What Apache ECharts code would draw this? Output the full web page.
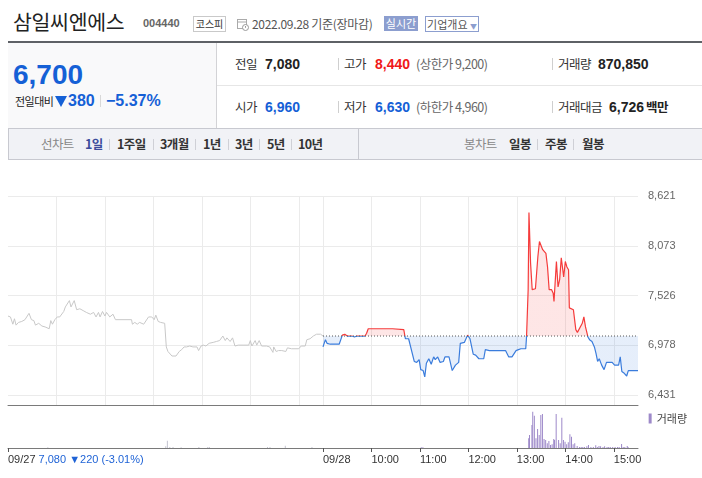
<!DOCTYPE html>
<html><head><meta charset="utf-8">
<script src="https://cdn.jsdelivr.net/npm/echarts@6/dist/echarts.min.js"></script>
<style>
body{margin:0;width:702px;height:478px;background:#fff;font-family:"Liberation Sans","Noto Sans CJK KR",sans-serif;position:relative;overflow:hidden;color:#333}
.a{position:absolute;white-space:nowrap}
.k{font-family:"Noto Sans CJK KR",sans-serif}
.lb{font-size:12.5px;color:#333;line-height:20px;letter-spacing:-0.5px}
.vb{font-size:14px;font-weight:bold;line-height:20px;color:#222}
.sep{position:absolute;width:1px;height:12px;background:#cfcfcf}
.tb{font-size:12.5px;font-weight:bold;line-height:20px;color:#333;letter-spacing:-0.6px}
.ts{position:absolute;width:1px;height:11px;background:#cfd0d6;top:139px}
</style></head><body>
<!-- title row -->
<div class="a k" style="left:13px;top:6px;font-size:20.5px;line-height:30px;color:#222;letter-spacing:-0.3px">삼일씨엔에스</div>
<div class="a" style="left:143px;top:15px;font-size:11px;font-weight:bold;line-height:16px;color:#666">004440</div>
<div class="a k" style="left:193px;top:16px;width:31px;height:14px;border:1px solid #c9c9c9;font-size:10px;line-height:14px;text-align:center;color:#333">코스피</div>
<svg class="a" style="left:237px;top:18px" width="12" height="13" viewBox="0 0 12 13"><rect x="0.5" y="1.5" width="9" height="9" fill="none" stroke="#aaa"/><line x1="0.5" y1="4" x2="9.5" y2="4" stroke="#aaa"/><circle cx="8.5" cy="9.5" r="3" fill="#fff" stroke="#999"/><line x1="8.5" y1="8" x2="8.5" y2="9.8" stroke="#999"/></svg>
<div class="a k" style="left:252px;top:15px;font-size:12px;line-height:17px;color:#555;letter-spacing:-0.3px">2022.09.28 기준(장마감)</div>
<div class="a k" style="left:384px;top:16px;width:34px;height:15px;background:#8c9ecf;font-size:11px;line-height:15px;text-align:center;color:#fff">실시간</div>
<div class="a k" style="left:425px;top:16px;width:52px;height:14px;border:1px solid #8c9ecf;font-size:11px;line-height:14px;text-align:center;color:#555;background:#fff">기업개요 <span style="font-size:7px;color:#8c9ecf">▼</span></div>
<div class="a" style="left:8px;top:41px;width:694px;height:2px;background:#5e6166"></div>
<!-- price block -->
<div class="a" style="left:8px;top:43px;width:208px;height:85px;background:#f9f9fa;border-right:1px solid #d3d3d6"></div>
<div class="a" style="left:13px;top:58px;font-size:28px;font-weight:bold;line-height:34px;color:#1560d6">6,700</div>
<div class="a k" style="left:15px;top:93px;font-size:11px;line-height:16px;color:#222;letter-spacing:-0.5px">전일대비</div>
<svg class="a" style="left:55px;top:96px" width="12" height="11" viewBox="0 0 12 11"><polygon points="0,0 12,0 6,11" fill="#1560d6"/></svg>
<div class="a" style="left:68px;top:91px;font-size:16px;font-weight:bold;line-height:20px;color:#1560d6">380</div>
<div class="sep" style="left:100px;top:95px;background:#d8d8d8"></div>
<div class="a" style="left:106px;top:91px;font-size:16px;font-weight:bold;line-height:20px;color:#1560d6">−5.37%</div>
<!-- stats -->
<div class="a" style="left:217px;top:85px;width:485px;height:1px;background:#e6e6e6"></div>
<div class="a k lb" style="left:235px;top:54px">전일</div>
<div class="a vb" style="left:265px;top:54px">7,080</div>
<div class="sep" style="left:338px;top:58px"></div>
<div class="a k lb" style="left:344px;top:54px">고가</div>
<div class="a vb" style="left:375px;top:54px;color:#f01818">8,440</div>
<div class="a k lb" style="left:416px;top:54px;color:#666">(상한가 9,200)</div>
<div class="sep" style="left:552px;top:58px"></div>
<div class="a k lb" style="left:558px;top:54px">거래량</div>
<div class="a vb" style="left:598px;top:54px">870,850</div>
<div class="a k lb" style="left:235px;top:97px">시가</div>
<div class="a vb" style="left:265px;top:97px;color:#1560d6">6,960</div>
<div class="sep" style="left:338px;top:101px"></div>
<div class="a k lb" style="left:344px;top:97px">저가</div>
<div class="a vb" style="left:375px;top:97px;color:#1560d6">6,630</div>
<div class="a k lb" style="left:416px;top:97px;color:#666">(하한가 4,960)</div>
<div class="sep" style="left:552px;top:101px"></div>
<div class="a k lb" style="left:558px;top:97px">거래대금</div>
<div class="a vb" style="left:609px;top:97px">6,726</div>
<div class="a k lb" style="left:646px;top:97px;font-weight:bold;color:#222">백만</div>
<!-- tabs -->
<div class="a" style="left:8px;top:128px;width:693px;height:30px;background:#f1f2f6;border:1px solid #c8c9d0"></div>
<div class="a" style="left:358px;top:129px;width:1px;height:30px;background:#c8c9d0"></div>
<div class="a k tb" style="left:41px;top:134px;color:#888;font-weight:normal">선차트</div>
<div class="a k tb" style="left:85px;top:134px;color:#3b4c9c">1일</div>
<div class="ts" style="left:109px"></div>
<div class="a k tb" style="left:117px;top:134px">1주일</div>
<div class="ts" style="left:153px"></div>
<div class="a k tb" style="left:160px;top:134px">3개월</div>
<div class="ts" style="left:195px"></div>
<div class="a k tb" style="left:203px;top:134px">1년</div>
<div class="ts" style="left:228px"></div>
<div class="a k tb" style="left:235px;top:134px">3년</div>
<div class="ts" style="left:259px"></div>
<div class="a k tb" style="left:267px;top:134px">5년</div>
<div class="ts" style="left:291px"></div>
<div class="a k tb" style="left:298px;top:134px">10년</div>
<div class="a k tb" style="left:464px;top:134px;color:#888;font-weight:normal">봉차트</div>
<div class="a k tb" style="left:509px;top:134px">일봉</div>
<div class="ts" style="left:537px"></div>
<div class="a k tb" style="left:545px;top:134px">주봉</div>
<div class="ts" style="left:573px"></div>
<div class="a k tb" style="left:582px;top:134px">월봉</div>

<div id="chart" style="position:absolute;left:0;top:160px;width:702px;height:318px"></div>
<script>
// ---- data ----
const dayLabels = ['09/27', '09/28'];
const hourLabels = ['10:00', '11:00', '12:00', '13:00', '14:00', '15:00'];
const prevClose = 7080;
const upperLimit = 9200;
const lowerLimit = 4960;
const prevDayInfo = '7,080 ▼220 (-3.01%)';
const priceTicks = [6431, 6978.5, 7526, 8073.5, 8621];

const day1Times = ['09:00','09:03','09:06','09:08','09:10','09:13','09:17','09:21','09:26','09:29','09:32','09:34','09:38','09:42','09:46','09:51','09:53','09:55','09:58','10:01','10:04','10:09','10:11','10:16','10:18','10:22','10:25','10:29','10:33','10:37','10:42','10:46','10:49','10:52','10:54','10:57','11:00','11:02','11:06','11:10','11:13','11:33','11:34','11:37','11:40','11:43','11:48','11:50','11:54','11:58','12:01','12:03','12:06','12:09','12:14','12:16','12:18','12:23','12:28','12:32','12:35','12:38','12:41','12:45','12:49','12:54','12:56','12:59','13:02','13:05','13:09','13:14','13:18','13:22','13:26','13:29','13:31','13:35','13:38','13:41','13:45','13:51','13:58','14:00','14:02','14:06','14:08','14:11','14:14','14:20','14:24','14:28','14:29','14:32','14:35','14:39','14:44','14:46','14:51','15:00','15:02','15:03','15:08','15:10','15:14','15:18','15:22','15:27','15:30'];
const day1Prices = [7300,7290,7210,7270,7200,7230,7240,7260,7330,7260,7250,7200,7220,7190,7180,7160,7250,7210,7260,7290,7290,7350,7400,7470,7400,7470,7370,7380,7360,7340,7320,7340,7290,7340,7290,7350,7300,7340,7290,7320,7260,7260,7210,7230,7210,7230,7210,7210,7290,7290,7260,7310,7240,7230,7220,6960,6910,6860,6860,6910,6930,6960,6960,6970,6960,6960,6920,6970,6980,6970,7000,7010,7020,7030,7080,7030,7060,7020,7060,6970,6980,6980,6980,7030,6970,7030,6980,7030,6970,6970,6960,6900,6960,6910,6920,6920,6910,6950,6940,6940,6920,6970,6970,7040,7050,7080,7100,7100,7080];

const day2Times = ['09:00','09:03','09:05','09:07','09:09','09:12','09:20','09:22','09:24','09:27','09:30','09:36','09:39','09:42','09:52','09:54','09:56','10:01','10:26','10:28','10:40','10:42','10:46','10:48','10:53','10:56','10:59','11:01','11:04','11:06','11:08','11:11','11:14','11:17','11:19','11:22','11:25','11:29','11:31','11:36','11:40','11:44','11:48','11:50','11:55','11:57','11:59','12:02','12:06','12:09','12:13','12:19','12:21','12:26','12:32','12:46','12:50','12:54','12:59','13:02','13:05','13:11','13:12','13:14','13:15','13:17','13:19','13:21','13:23','13:25','13:26','13:28','13:30','13:32','13:34','13:36','13:38','13:40','13:43','13:45','13:46','13:49','13:51','13:53','13:55','13:58','14:00','14:02','14:04','14:05','14:10','14:13','14:15','14:17','14:21','14:23','14:25','14:28','14:30','14:33','14:36','14:38','14:40','14:42','14:45','14:48','14:51','14:58','15:01','15:06','15:08','15:10','15:13','15:16','15:18','15:30'];
const day2Prices = [6960,7040,7000,7020,6990,6990,6990,7000,7090,7100,7080,7080,7070,7080,7080,7110,7160,7160,7160,7150,7150,7050,7050,7040,6800,6790,6820,6710,6700,6630,6780,6830,6770,6850,6820,6850,6790,6800,6850,6850,6700,6760,6790,7000,7010,7030,7090,7050,6880,6870,6830,6830,6930,6920,6920,6920,6850,6850,6920,6930,6940,6940,7070,7590,8440,7880,7590,7570,7600,7600,7950,8120,8110,8030,8030,7990,7840,7590,7590,7550,7460,7900,7620,7700,7940,7730,7900,7840,7810,7390,7370,7150,7120,7130,7220,7290,7180,7070,7040,7020,6960,6890,6800,6830,6760,6710,6790,6790,6760,6760,6850,6690,6670,6640,6700,6700];

const vol1Times = ['09:50','12:16','12:18','12:21','12:25','12:35','12:57','13:08','13:10','14:22','14:25','14:44','15:17'];
const vol1Values = [1200,3000,13200,1800,1800,1200,1800,1800,1800,1800,1800,4200,1800];

const vol2Times = ['11:01','11:03','13:14','13:15','13:18','13:19','13:21','13:23','13:25','13:27','13:29','13:31','13:33','13:35','13:37','13:39','13:41','13:43','13:45','13:46','13:48','13:51','13:53','13:55','13:57','13:59','14:01','14:03','14:05','14:07','14:09','14:11','14:14','14:17','14:19','14:21','14:23','14:26','14:28','14:31','14:34','14:37','14:39','14:41','14:43','14:46','14:48','14:51','14:53','14:55','14:58','15:01','15:04','15:06','15:09','15:11','15:13','15:16','15:17'];
const vol2Values = [1500,1500,17400,23400,41400,65400,58200,17400,34200,23400,59400,61200,16200,14400,8400,12600,5400,6600,16200,14400,61200,14400,8400,54600,14400,11400,6600,10200,24600,20400,6600,8400,3600,1800,1800,1800,1800,3000,5400,1800,1800,4800,1800,3600,3000,1800,3000,1800,1800,1800,1800,1800,1800,1800,7200,1800,1800,3600,1800];

// ---- helpers ----
const SESSION = 390; // minutes per session 09:00-15:30
function idx(t, day) { const [h, m] = t.split(':').map(Number); return (h - 9) * 60 + m + day * SESSION; }
function pairs(times, vals, day) { return times.map((t, i) => [idx(t, day), vals[i]]); }

const xMax = SESSION * 2;
const hourTickVals = hourLabels.map(t => idx(t, 1));
const dayTickVals = dayLabels.map((d, i) => i * SESSION);
const labelVals = dayTickVals.concat(hourTickVals);
const labelTexts = dayLabels.concat(hourLabels);
const gridVals = [];
for (let d = 0; d < 2; d++) for (let h = 10; h <= 15; h++) gridVals.push(idx(h + ':00', d));
gridVals.push(SESSION);
gridVals.sort((a, b) => a - b);

const chart = echarts.init(document.getElementById('chart'), null, { renderer: 'canvas' });
const fontFam = '"Liberation Sans","Noto Sans CJK KR",sans-serif';
chart.setOption({
  animation: false,
  textStyle: { fontFamily: fontFam },
  grid: [
    { left: 8, top: 36, width: 630, height: 209 },
    { left: 8, top: 245, width: 630, height: 43 }
  ],
  legend: {
    data: [{ name: '거래량', icon: 'rect' }],
    right: 10, top: 248, itemWidth: 3, itemHeight: 10, itemGap: 3,
    textStyle: { color: '#444', fontSize: 11, fontFamily: '"Noto Sans CJK KR",sans-serif' }
  },
  xAxis: [
    { type: 'value', gridIndex: 0, min: 0, max: xMax,
      axisLine: { show: true, onZero: false, lineStyle: { color: '#7a7a7a', width: 1 } },
      axisTick: { show: false, customValues: gridVals },
      axisLabel: { show: false },
      splitLine: { show: true, lineStyle: { color: '#ebebeb', width: 1 } } },
    { type: 'value', gridIndex: 1, min: 0, max: xMax,
      axisLine: { show: true, onZero: false, lineStyle: { color: '#7a7a7a', width: 1 } },
      axisTick: { show: true, customValues: labelVals, length: 4, lineStyle: { color: '#555' } },
      axisLabel: { show: true, customValues: labelVals, align: 'left', margin: 6, color: '#333', fontSize: 11,
        formatter: function (v) {
          const i = labelVals.indexOf(v);
          if (i === 0) return labelTexts[0] + ' {b|' + prevDayInfo + '}';
          return i >= 0 ? labelTexts[i] : '';
        },
        rich: { b: { color: '#1f63d6', fontSize: 11 } } },
      splitLine: { show: false } }
  ],
  yAxis: [
    { type: 'value', gridIndex: 0, position: 'right', min: 6321, max: 8621,
      axisLine: { show: false },
      axisTick: { show: false, customValues: priceTicks },
      axisLabel: { customValues: priceTicks, margin: 10, color: '#666', fontSize: 11,
        formatter: v => Math.floor(v).toLocaleString('en-US') },
      splitLine: { show: true, lineStyle: { color: '#ebebeb', width: 1 } } },
    { type: 'value', gridIndex: 1, min: 0, max: 77500, show: false,
      splitLine: { show: false } }
  ],
  visualMap: {
    type: 'piecewise', show: false, seriesIndex: 1, dimension: 1,
    pieces: [
      { min: lowerLimit, max: prevClose, color: '#3a7cdc' },
      { gt: prevClose, max: upperLimit, color: '#f53b3b' }
    ]
  },
  series: [
    { name: '09/27', type: 'line', xAxisIndex: 0, yAxisIndex: 0, data: pairs(day1Times, day1Prices, 0),
      symbol: 'none', lineStyle: { color: '#c8c8c8', width: 1 }, itemStyle: { color: '#c8c8c8' } },
    { name: '09/28', type: 'line', xAxisIndex: 0, yAxisIndex: 0, data: pairs(day2Times, day2Prices, 1),
      symbol: 'none', lineStyle: { width: 1.2 }, areaStyle: { origin: prevClose, opacity: 0.13 }, z: 3 },
    { name: 'prev', type: 'line', xAxisIndex: 0, yAxisIndex: 0,
      data: [[SESSION, prevClose], [xMax, prevClose]], symbol: 'none',
      lineStyle: { color: '#555', width: 1, type: [1, 2] }, z: 4 },
    { name: '전일거래량', type: 'bar', xAxisIndex: 1, yAxisIndex: 1, data: pairs(vol1Times, vol1Values, 0),
      barWidth: 1, itemStyle: { color: '#c3c3cf' } },
    { name: '거래량', type: 'bar', xAxisIndex: 1, yAxisIndex: 1, data: pairs(vol2Times, vol2Values, 1),
      barWidth: 1, itemStyle: { color: '#9d89c9' } }
  ]
});
</script>
</body></html>
